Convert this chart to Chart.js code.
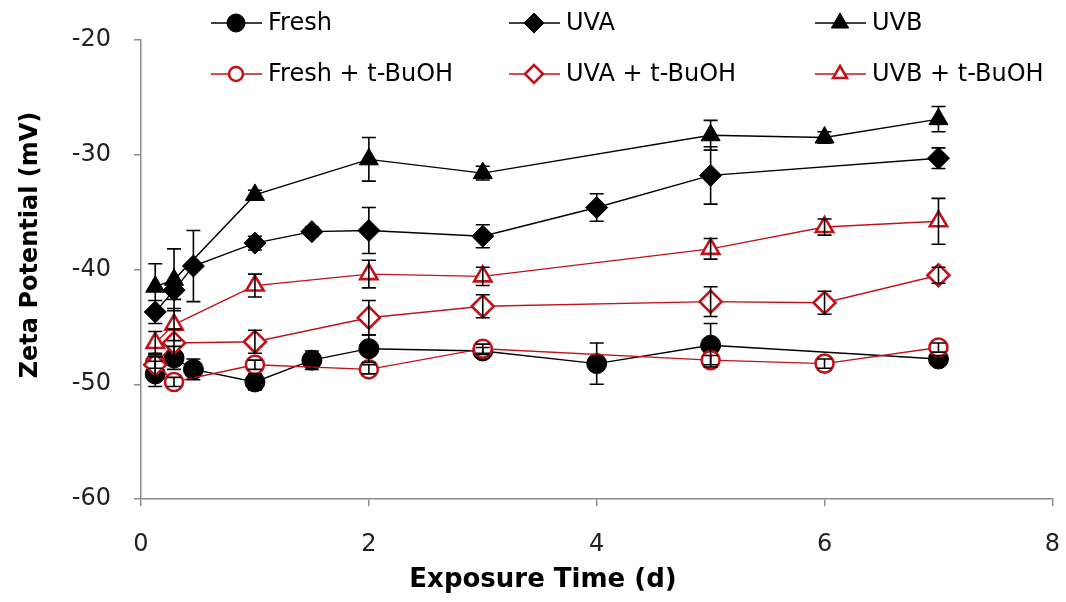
<!DOCTYPE html>
<html>
<head>
<meta charset="utf-8">
<script src="https://cdn.jsdelivr.net/npm/chart.js@4"></script>
<style>
  html, body { margin: 0; padding: 0; background: #fff; }
  #wrap { width: 1066px; height: 602px; position: relative; }
</style>
</head>
<body>
<div id="wrap"><canvas id="c" width="1066" height="602"></canvas></div>
<script>
// ---- data ----
const seriesNames = ["Fresh", "UVA", "UVB", "Fresh + t-BuOH", "UVA + t-BuOH", "UVB + t-BuOH"];
const xTitle = "Exposure Time (d)";
const yTitle = "Zeta Potential (mV)";

const freshX = [0.125, 0.29, 0.46, 1, 1.5, 2, 3, 4, 5, 7];
const freshY = [-49.1, -47.7, -48.7, -49.8, -47.9, -46.9, -47.1, -48.2, -46.6, -47.8];
const freshErr = [1.1, 1.0, 0.9, 0.7, 0.8, 1.2, 0.3, 1.8, 1.9, 0.3];

const uvaX = [0.125, 0.29, 0.46, 1, 1.5, 2, 3, 4, 5, 7];
const uvaY = [-43.7, -41.8, -39.7, -37.7, -36.7, -36.6, -37.1, -34.6, -31.8, -30.3];
const uvaErr = [1.0, 0.8, 3.1, 0.6, 0.4, 2.0, 1.0, 1.2, 2.5, 0.9];

const uvbX = [0.125, 0.29, 1, 2, 3, 5, 6, 7];
const uvbY = [-41.5, -40.9, -33.5, -30.4, -31.6, -28.3, -28.5, -26.9];
const uvbErr = [2.0, 2.7, 0.4, 1.9, 0.6, 1.3, 0.5, 1.1];

const redX = [0.125, 0.29, 1, 2, 3, 5, 6, 7];
const freshTbY = [-48.1, -49.8, -48.3, -48.7, -46.9, -47.9, -48.2, -46.8];
const freshTbErr = [0.5, 0.4, 0.4, 0.4, 0.4, 0.4, 0.4, 0.4];
const uvaTbY = [-48.3, -46.4, -46.3, -44.2, -43.2, -42.8, -42.9, -40.5];
const uvaTbErr = [1.0, 1.2, 1.0, 1.5, 1.0, 1.3, 1.0, 0.7];
const uvbTbY = [-46.4, -44.8, -41.4, -40.4, -40.6, -38.2, -36.3, -35.8];
const uvbTbErr = [1.0, 1.4, 1.0, 1.2, 0.8, 0.9, 0.7, 2.0];

const xTicks = [0, 2, 4, 6, 8];
const yTicks = [-60, -50, -40, -30, -20];

// ---- styles ----
const BLACK = '#000000';
const RED = '#c0141c';
const FONT = '"DejaVu Sans", Verdana, sans-serif';

function pts(xs, ys, es) { return xs.map((x, i) => ({ x: x, y: ys[i], err: es[i] })); }

function mk(label, xs, ys, es, color, style, filled, radius, order) {
  return {
    label: label,
    data: pts(xs, ys, es),
    showLine: true,
    borderColor: color,
    borderWidth: 1.4,
    pointStyle: style,
    pointRadius: radius,
    pointHoverRadius: radius,
    pointBackgroundColor: filled ? color : '#ffffff',
    pointBorderColor: color,
    pointBorderWidth: filled ? 1 : 2.6,
    order: order,
    _filled: filled
  };
}

const datasets = [
  mk(seriesNames[0], freshX, freshY, freshErr, BLACK, 'circle', true, 10, 6),
  mk(seriesNames[1], uvaX, uvaY, uvaErr, BLACK, 'rectRot', true, 11, 5),
  mk(seriesNames[2], uvbX, uvbY, uvbErr, BLACK, 'triangle', true, 11, 4),
  mk(seriesNames[3], redX, freshTbY, freshTbErr, RED, 'circle', false, 9, 3),
  mk(seriesNames[4], redX, uvaTbY, uvaTbErr, RED, 'rectRot', false, 11, 2),
  mk(seriesNames[5], redX, uvbTbY, uvbTbErr, RED, 'triangle', false, 10, 1)
];

// error bars drawn through the chart's own scales
const errorBars = {
  id: 'errorBars',
  afterDatasetsDraw(chart) {
    const ctx = chart.ctx;
    const xs = chart.scales.x, ys = chart.scales.y;
    ctx.save();
    ctx.strokeStyle = '#000';
    ctx.lineWidth = 1.6;
    chart.data.datasets.forEach(ds => {
      ds.data.forEach(p => {
        const px = xs.getPixelForValue(p.x);
        const top = ys.getPixelForValue(p.y + p.err);
        const bot = ys.getPixelForValue(p.y - p.err);
        ctx.beginPath();
        ctx.moveTo(px, top); ctx.lineTo(px, bot);
        ctx.moveTo(px - 7, top); ctx.lineTo(px + 7, top);
        ctx.moveTo(px - 7, bot); ctx.lineTo(px + 7, bot);
        ctx.stroke();
      });
    });
    ctx.restore();
  }
};

// legend (3 columns, 2 rows) and axis titles placed as in the reference
const legendLayout = {
  id: 'legendLayout',
  afterDraw(chart) {
    const ctx = chart.ctx;
    const cols = [268, 566, 872];
    const rows = [23, 74];
    ctx.save();
    chart.data.datasets.forEach((ds, i) => {
      const tx = cols[i % 3];
      const ty = rows[Math.floor(i / 3)];
      const cx = tx - 32;
      ctx.strokeStyle = ds.borderColor;
      ctx.lineWidth = 1.6;
      ctx.beginPath();
      ctx.moveTo(tx - 57, ty); ctx.lineTo(tx - 6, ty);
      ctx.stroke();
      ctx.fillStyle = ds.pointBackgroundColor;
      ctx.strokeStyle = ds.pointBorderColor;
      ctx.lineWidth = ds.pointBorderWidth;
      Chart.helpers.drawPoint(ctx, {
        pointStyle: ds.pointStyle,
        radius: ds._filled ? ds.pointRadius - 1 : ds.pointRadius - 2,
        borderWidth: ds.pointBorderWidth,
        rotation: 0
      }, cx, ty);
      ctx.fillStyle = '#000';
      ctx.font = '24px ' + FONT;
      ctx.textBaseline = 'middle';
      ctx.textAlign = 'left';
      ctx.fillText(ds.label, tx, ty + 1);
    });
    // axis titles
    ctx.fillStyle = '#000';
    ctx.font = 'bold 26px ' + FONT;
    ctx.textAlign = 'center';
    ctx.textBaseline = 'middle';
    ctx.fillText(xTitle, 543, 580);
    ctx.translate(31, 245);
    ctx.rotate(-Math.PI / 2);
    ctx.font = 'bold 24px ' + FONT;
    ctx.fillText(yTitle, 0, 0);
    ctx.restore();
  }
};

new Chart(document.getElementById('c'), {
  type: 'scatter',
  data: { datasets: datasets },
  plugins: [errorBars, legendLayout],
  options: {
    responsive: false,
    animation: false,
    devicePixelRatio: 1,
    layout: { padding: { top: 40, right: 2, left: 0, bottom: 0 } },
    plugins: { legend: { display: false }, tooltip: { enabled: false } },
    scales: {
      x: {
        type: 'linear',
        min: 0, max: 8,
        afterBuildTicks: s => { s.ticks = xTicks.map(v => ({ value: v })); },
        afterFit: s => { s.height = 103; s.paddingRight = 0; s.paddingLeft = 0; },
        grid: { display: true, drawOnChartArea: false, drawTicks: true, tickLength: 7, color: '#8c8c8c', lineWidth: 1.5 },
        border: { display: true, color: '#8c8c8c', width: 1.5 },
        ticks: { color: '#222', font: { family: FONT, size: 24 }, padding: 24 }
      },
      y: {
        type: 'linear',
        min: -60, max: -20,
        afterBuildTicks: s => { s.ticks = yTicks.map(v => ({ value: v })); },
        afterFit: s => { s.width = 141; s.paddingRight = 0; s.paddingLeft = 0; },
        grid: { display: true, drawOnChartArea: false, drawTicks: true, tickLength: 7, color: '#8c8c8c', lineWidth: 1.5 },
        border: { display: true, color: '#8c8c8c', width: 1.5 },
        ticks: { color: '#222', font: { family: FONT, size: 24 }, padding: 23 }
      }
    }
  }
});
</script>
</body>
</html>
